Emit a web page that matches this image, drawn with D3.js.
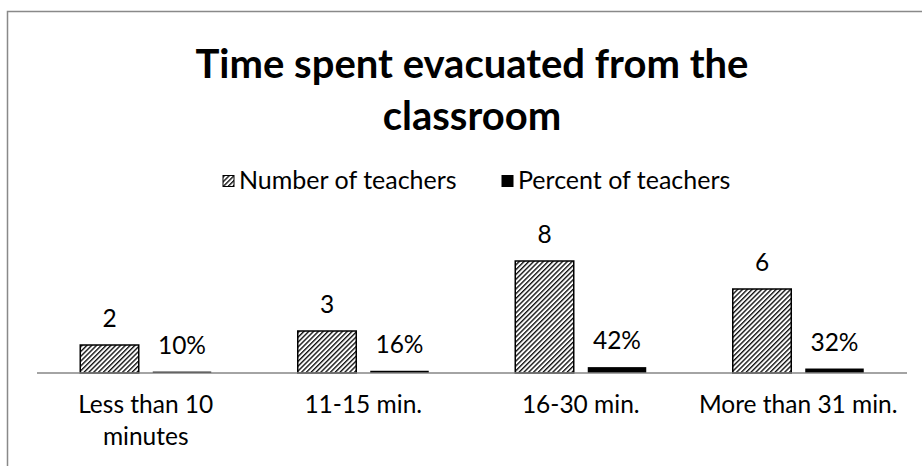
<!DOCTYPE html>
<html>
<head>
<meta charset="utf-8">
<script src="https://cdn.jsdelivr.net/npm/d3@7"></script>
<style>
  body { margin: 0; background: #fff; }
  text { font-family: Lato, 'Open Sans', sans-serif; fill: #000; }
</style>
</head>
<body>
<div class="svg"></div>
<script>
const width = 922
const height = 466

// Data
const categories = ['Less than 10 minutes', '11-15 min.', '16-30 min.', 'More than 31 min.']
const categoryLines = [['Less than 10', 'minutes'], ['11-15 min.'], ['16-30 min.'], ['More than 31 min.']]
const series = ['Number of teachers', 'Percent of teachers']
const numberOfTeachers = [2, 3, 8, 6]
const percentOfTeachers = [0.10, 0.16, 0.42, 0.32]
const titleLines = ['Time spent evacuated from the', 'classroom']

const svg = d3
  .select('.svg')
  .append('svg')
  .attr('width', width)
  .attr('height', height)

// hatch pattern for the number bars
const hatch = 3.4
svg
  .append('defs')
  .append('pattern')
  .attr('id', 'hatch')
  .attr('patternUnits', 'userSpaceOnUse')
  .attr('width', hatch)
  .attr('height', hatch)
  .attr('patternTransform', 'rotate(45)')
  .call(p => {
    p.append('rect').attr('width', hatch).attr('height', hatch).attr('fill', '#fff')
    p.append('line')
      .attr('x1', 0.7).attr('y1', 0).attr('x2', 0.7).attr('y2', hatch)
      .attr('stroke', '#000').attr('stroke-width', 1.3)
  })

// chart frame (runs off the right and bottom edges)
svg
  .append('rect')
  .attr('x', 7.5)
  .attr('y', 11.5)
  .attr('width', 940)
  .attr('height', 480)
  .attr('fill', 'none')
  .attr('stroke', '#898989')
  .attr('stroke-width', 1.5)

// Title
svg
  .append('g')
  .selectAll('text')
  .data(titleLines)
  .enter()
  .append('text')
  .attr('x', 472)
  .attr('y', (d, i) => 78 + i * 52)
  .attr('text-anchor', 'middle')
  .attr('font-size', 40)
  .attr('font-weight', 'bold')
  .text(d => d)

// Scales
const x0 = d3.scaleBand().domain(categories).range([37, 907])
const x1 = d3
  .scaleBand()
  .domain(series)
  .range([43.25, x0.bandwidth() - 43.25])
  .paddingInner(0.193)
const y = d3.scaleLinear().domain([0, 10]).range([373, 233])

const rows = categories.map((c, i) => ({
  cat: c,
  lines: categoryLines[i],
  vals: [
    { s: series[0], v: numberOfTeachers[i], label: d3.format('d')(numberOfTeachers[i]) },
    { s: series[1], v: percentOfTeachers[i], label: d3.format('.0%')(percentOfTeachers[i]) }
  ]
}))

const groups = svg
  .selectAll('.group')
  .data(rows)
  .enter()
  .append('g')
  .attr('class', 'group')
  .attr('transform', d => 'translate(' + x0(d.cat) + ', 0)')

groups
  .selectAll('rect')
  .data(d => d.vals)
  .enter()
  .append('rect')
  .attr('x', d => x1(d.s))
  .attr('y', d => y(d.v))
  .attr('width', x1.bandwidth())
  .attr('height', d => y(0) - y(d.v))
  .attr('fill', d => (d.s === series[0] ? 'url(#hatch)' : '#000'))
  .attr('stroke', d => (d.s === series[0] ? '#000' : 'none'))
  .attr('stroke-width', 1.5)

groups
  .selectAll('.val')
  .data(d => d.vals)
  .enter()
  .append('text')
  .attr('class', 'val')
  .attr('x', d => x1(d.s) + x1.bandwidth() / 2)
  .attr('y', d => y(d.v) - 18)
  .attr('text-anchor', 'middle')
  .attr('font-size', 24.5)
  .text(d => d.label)

// x axis line
svg
  .append('line')
  .attr('x1', 37)
  .attr('x2', 907)
  .attr('y1', y(0))
  .attr('y2', y(0))
  .attr('stroke', '#868686')
  .attr('stroke-width', 1.5)

// category labels
groups
  .selectAll('.cat')
  .data(d => d.lines)
  .enter()
  .append('text')
  .attr('class', 'cat')
  .attr('x', x0.bandwidth() / 2)
  .attr('y', (d, i) => 413 + i * 32)
  .attr('text-anchor', 'middle')
  .attr('font-size', 24.5)
  .text(d => d)

// Legend
const legend = svg.append('g').attr('id', 'legend')
const legendX = [223, 502]
series.forEach((s, i) => {
  legend
    .append('rect')
    .attr('x', legendX[i])
    .attr('y', 175.5)
    .attr('width', 11)
    .attr('height', 11)
    .attr('fill', i === 0 ? 'url(#hatch)' : '#000')
    .attr('stroke', '#000')
    .attr('stroke-width', 1)
  legend
    .append('text')
    .attr('x', legendX[i] + 16)
    .attr('y', 189)
    .attr('font-size', 25)
    .text(s)
})
</script>
</body>
</html>
